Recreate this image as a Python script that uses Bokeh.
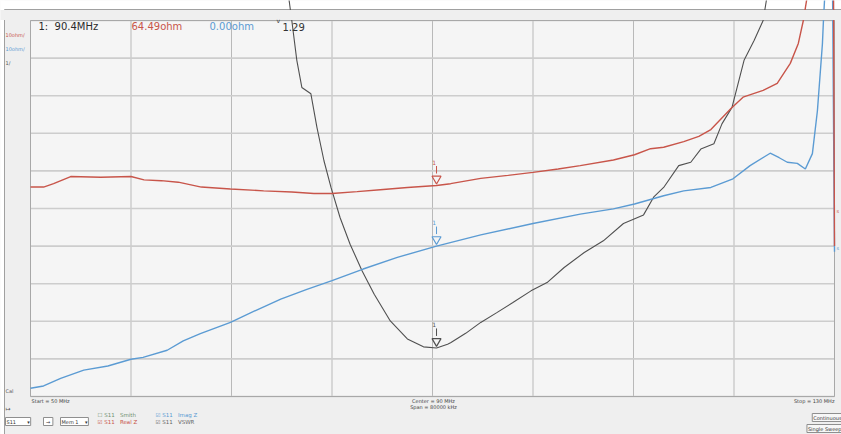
from bokeh.plotting import figure
from bokeh.models import Label, Range1d
from bokeh.core.properties import value
from bokeh.embed import file_html
from bokeh.resources import INLINE
import numpy as np

# ---- data (grid divisions above the bottom edge; VSWR is 1 per division) ----
start_mhz, stop_mhz = 50, 130
marker_mhz = 90.4
x_grid = [50, 60, 70, 80, 90, 100, 110, 120, 130]
y_grid = [0, 1, 2, 3, 4, 5, 6, 7, 8, 9, 10]

real_f = [50.0, 51.3, 52.3, 54.0, 57.0, 60.0, 61.3, 63.0, 64.7, 67.0, 69.9, 73.2, 76.0,
          78.2, 80.0, 82.5, 84.8, 87.5, 90.4, 91.8, 94.8, 97.5, 100.0, 102.5, 104.7,
          108.0, 110.1, 111.7, 113.0, 115.0, 116.5, 117.7, 119.7, 120.9, 122.9, 124.3,
          125.6, 126.4, 126.9, 127.5, 129.9, 130.0]
real_z = [5.57, 5.57, 5.66, 5.85, 5.83, 5.85, 5.76, 5.74, 5.70, 5.57, 5.52, 5.47, 5.44,
          5.40, 5.40, 5.45, 5.50, 5.56, 5.61, 5.66, 5.80, 5.88, 5.96, 6.05, 6.14,
          6.29, 6.43, 6.59, 6.63, 6.78, 6.92, 7.10, 7.66, 7.96, 8.14, 8.33,
          8.86, 9.39, 10.0, 11.0, 11.0, 4.0]

imag_f = [50.0, 51.3, 53.0, 55.3, 57.7, 60.0, 61.2, 63.6, 65.2, 66.9, 69.9, 72.5, 74.9,
          77.5, 80.0, 83.1, 86.5, 90.4, 94.8, 100.0, 104.7, 108.0, 110.1, 113.0, 115.0,
          117.7, 119.9, 121.6, 123.6, 124.5, 125.3, 126.3, 127.1, 127.8, 128.3, 128.8,
          128.9, 129.1, 129.8, 130.0]
imag_z = [0.22, 0.28, 0.48, 0.70, 0.81, 0.99, 1.04, 1.23, 1.48, 1.67, 1.97, 2.30, 2.59,
          2.85, 3.08, 3.39, 3.70, 4.00, 4.30, 4.60, 4.85, 4.99, 5.12, 5.34, 5.47,
          5.56, 5.79, 6.14, 6.47, 6.35, 6.23, 6.20, 6.05, 6.46, 7.60, 9.39,
          10.0, 11.0, 11.0, 3.85]

vswr_f = [50.0, 75.5, 76.0, 76.5, 77.0, 77.9, 78.5, 79.2, 79.9, 80.8, 81.8, 83.0, 84.2,
          85.8, 87.5, 89.1, 90.4, 91.5, 91.8, 93.3, 94.8, 96.4, 98.0, 99.8, 101.4,
          103.1, 105.1, 107.0, 109.0, 111.0, 112.0, 113.0, 114.5, 115.7, 116.7, 118.0,
          118.8, 119.8, 121.0, 122.0, 122.9, 123.5, 130.0]
vswr = [15, 11, 10.0, 8.94, 8.22, 8.05, 7.16, 6.27, 5.56, 4.76, 4.05, 3.34, 2.72,
        2.01, 1.53, 1.32, 1.29, 1.39, 1.43, 1.68, 1.97, 2.23, 2.50, 2.81, 3.03,
        3.43, 3.83, 4.14, 4.60, 4.83, 5.30, 5.56, 6.14, 6.23, 6.58, 6.72,
        7.25, 7.69, 8.94, 9.47, 10.0, 11, 11]

RED = "#c8554a"
BLUE = "#5b9bd3"
BLACK = "#505050"
FONT = "DejaVu Sans"
PANEL = "#efefef"
PLOTBG = "#f5f5f5"
W, H = 841, 434

# plot area occupies canvas pixels x 30..834, y 20..396
def fx(xr):
    return start_mhz + (xr - 30) * (stop_mhz - start_mhz) / 804

def fy(yr):
    return (396 - yr) * 10 / 376

p = figure(width=W, height=H, min_border=0, min_border_left=0, min_border_right=0,
           min_border_top=0, min_border_bottom=0,
           x_range=Range1d(fx(0), fx(W)), y_range=Range1d(fy(H), fy(0)),
           x_axis_location=None, y_axis_location=None,
           output_backend="svg", toolbar_location=None)
p.background_fill_color = PANEL
p.border_fill_color = PANEL
p.outline_line_color = None
p.xgrid.visible = False
p.ygrid.visible = False

# window frame (white outside, thin gray border)
p.quad(left=[fx(-5)], right=[fx(W + 5)], bottom=[fy(9)], top=[fy(-5)],
       fill_color="white", line_color=None)
p.quad(left=[fx(-5)], right=[fx(4)], bottom=[fy(H + 5)], top=[fy(-5)],
       fill_color="white", line_color=None)
p.segment([fx(4)], [fy(9)], [fx(W + 5)], [fy(9)], line_color="#a0a0a0", line_width=1)
p.segment([fx(4)], [fy(9)], [fx(4)], [fy(H + 5)], line_color="#a0a0a0", line_width=1)

# plot area
p.quad(left=[start_mhz], right=[stop_mhz], bottom=[0], top=[10],
       fill_color=PLOTBG, line_color=None)
p.segment(x_grid, [0] * len(x_grid), x_grid, [10] * len(x_grid),
          line_color="#b9b9b9", line_width=1)
p.segment([start_mhz] * len(y_grid), y_grid, [stop_mhz] * len(y_grid), y_grid,
          line_color="#cdcdcd", line_width=1.6)
p.quad(left=[start_mhz], right=[stop_mhz], bottom=[0], top=[10],
       fill_color=None, line_color="#a8a8a8", line_width=1)

p.line(vswr_f, vswr, line_color=BLACK, line_width=1.1)
p.line(imag_f, imag_z, line_color=BLUE, line_width=1.4)
p.line(real_f, real_z, line_color=RED, line_width=1.4)

# cover the traces where they leave the plot area
p.quad(left=[fx(-5)], right=[fx(W + 5)], bottom=[10 + 0.5 * 10 / 376], top=[fy(9.5)],
       fill_color=PANEL, line_color=None)
p.quad(left=[fx(836)], right=[fx(W + 5)], bottom=[fy(H + 5)], top=[fy(9.5)],
       fill_color=PANEL, line_color=None)

# markers
for f_arr, v_arr, col in ((real_f, real_z, RED), (imag_f, imag_z, BLUE), (vswr_f, vswr, BLACK)):
    mv = float(np.interp(marker_mhz, f_arr, v_arr))
    p.scatter([marker_mhz], [mv + 0.18], marker="inverted_triangle", size=9,
              fill_color=PLOTBG, line_color=col, line_width=1.2)
    p.segment([marker_mhz], [mv + 0.32], [marker_mhz], [mv + 0.52], line_color=col, line_width=1)
    p.text([marker_mhz - 0.05], [mv + 0.62], text=["1"], text_font=value(FONT),
           text_font_size="6px", text_color=col, text_align="right", text_baseline="middle")

def lab(xr, yr, text, color="#333333", size="6px", align="left", **kw):
    p.add_layout(Label(x=fx(xr), y=fy(yr), text=text, text_color=color, text_font=FONT,
                       text_font_size=size, text_align=align, text_baseline="middle", **kw))

NB = "\u00a0"
# header readout
lab(38, 26, "1:" + NB * 2 + "90.4MHz", "#2a2a2a", "10px")
lab(131, 26, "64.49ohm", RED, "10px")
lab(209, 26, "0.00ohm", BLUE, "10px")
lab(276, 20, "v", "#333333", "6px")
lab(282, 26, "1.29", "#333333", "10px")

# left scale labels
lab(5, 34, "10ohm/", RED, "5px")
lab(5, 48, "10ohm/", BLUE, "5px")
lab(5, 62, "1/", "#555555", "5px")
lab(5, 390, "Cal", "#555555", "5px")
lab(5, 408, "\u21a6", "#555555", "6px")

# right reference markers
lab(836, 210, "s", RED, "5px")
lab(836, 247, "s", BLUE, "5px")

# bottom frequency labels
lab(31, 400, "Start = 50 MHz", "#444444", "5px")
lab(433, 400, "Center = 90 MHz", "#444444", "5px", "center")
lab(433, 406, "Span = 80000 kHz", "#444444", "5px", "center")
lab(834, 400, "Stop = 130 MHz", "#444444", "5px", "right")

# controls row
box = dict(border_line_color="#8f8f8f", background_fill_color="#ffffff", padding=1)
lab(5, 421, "S11" + NB * 7 + "\u25be", "#333333", "5px", **box)
lab(43, 421, NB + "\u2192" + NB, "#333333", "5px", **box)
lab(60, 421, "Mem 1" + NB * 4 + "\u25be", "#333333", "5px", **box)
lab(97, 414, "\u2610 S11" + NB * 3 + "Smith", "#6f8f6f", "5.5px")
lab(97, 421, "\u2611 S11" + NB * 3 + "Real Z", RED, "5.5px")
lab(155, 414, "\u2611 S11" + NB * 3 + "Imag Z", BLUE, "5.5px")
lab(155, 421, "\u2611 S11" + NB * 3 + "VSWR", "#666666", "5.5px")
lab(842, 417, "Continuous", "#333333", "5px", "right",
    border_line_color="#8f8f8f", background_fill_color="#f7f7f7", padding=1)
lab(842, 428, "Single Sweep", "#333333", "5px", "right",
    border_line_color="#8f8f8f", background_fill_color="#f7f7f7", padding=1)

open("out.html", "w").write(file_html(p, INLINE))
